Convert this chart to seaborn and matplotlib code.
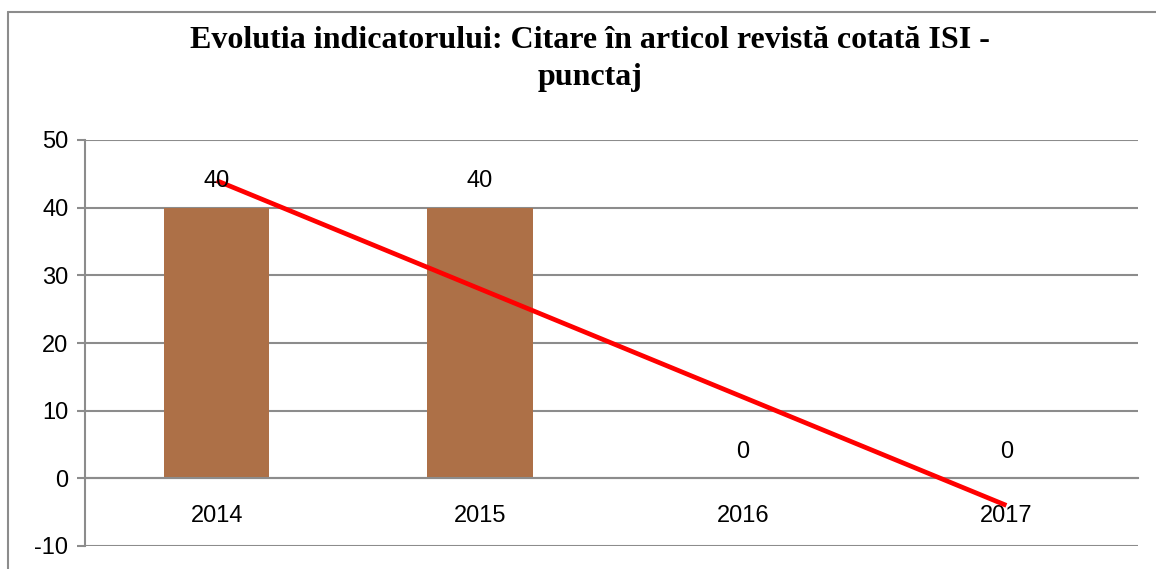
import numpy as np
import pandas as pd
import seaborn as sns
from matplotlib import pyplot as plt
from matplotlib.lines import Line2D
from matplotlib.ticker import MultipleLocator, FixedLocator

years = ['2014', '2015', '2016', '2017']
values = [40, 40, 0, 0]

df = pd.DataFrame({'an': years, 'punctaj': values})

sns.set_style('white')
plt.rcParams['font.family'] = ['Liberation Sans', 'DejaVu Sans']
plt.rcParams['axes.unicode_minus'] = False
plt.rcParams['text.color'] = 'black'
plt.rcParams['xtick.labelcolor'] = 'black'
plt.rcParams['ytick.labelcolor'] = 'black'

W, H = 1156, 569
fig = plt.figure(figsize=(W / 100, H / 100), dpi=100)
ax = fig.add_axes([85 / W, (H - 546) / H, (1138 - 85) / W, (546 - 140) / H])

grid_c = '#8c8c8c'

sns.barplot(data=df, x='an', y='punctaj', color='#ad7047', width=0.4,
            saturation=1, linewidth=0, ax=ax, zorder=2)

# linear trend like excel
xs = np.arange(len(values))
k, b = np.polyfit(xs, values, 1)
ax.plot([xs[0], xs[-1]], [k * xs[0] + b, k * xs[-1] + b], color='#ff0000',
        lw=3.4, solid_capstyle='butt', zorder=4)

for cont in ax.containers:
    ax.bar_label(cont, labels=[str(v) for v in values], padding=11,
                 fontsize=17, color='black', zorder=5)

ax.set_xlim(-0.5, 3.5)
ax.set_ylim(-10, 50)
ax.yaxis.set_major_locator(MultipleLocator(10))
ax.grid(axis='y', color=grid_c, lw=1.5, zorder=0)
ax.grid(axis='x', visible=False)
ax.set_axisbelow(True)

for s in ['top', 'right']:
    ax.spines[s].set_visible(False)
ax.spines['left'].set_color(grid_c)
ax.spines['left'].set_linewidth(1.5)
ax.spines['bottom'].set_position(('data', 0))
ax.spines['bottom'].set_color(grid_c)
ax.spines['bottom'].set_linewidth(1.5)

ax.xaxis.set_minor_locator(FixedLocator([0.5, 1.5, 2.5, 3.5]))
ax.tick_params(axis='x', which='major', length=0, pad=19, labelsize=17)
ax.tick_params(axis='x', which='minor', length=6, width=1.5, color=grid_c,
               direction='out')
ax.tick_params(axis='y', length=6, width=1.5, color=grid_c, pad=6,
               labelsize=17, left=True)
ax.set_xlabel('')
ax.set_ylabel('')

fig.text(590 / W, 1 - 41 / H, 'Evolutia indicatorului: Citare în articol revistă cotată ISI -',
         ha='center', va='center', fontsize=23, fontweight='bold', color='black',
         family=['Liberation Serif', 'DejaVu Serif'])
fig.text(590 / W, 1 - 77 / H, 'punctaj', ha='center', va='center', fontsize=23,
         fontweight='bold', color='black', family=['Liberation Serif', 'DejaVu Serif'])

# outer frame of the chart
fig.add_artist(Line2D([8 / W, 1], [1 - 12 / H, 1 - 12 / H], color=grid_c, lw=1.5))
fig.add_artist(Line2D([8 / W, 8 / W], [0, 1 - 12 / H], color=grid_c, lw=1.5))

fig.savefig('out.png', dpi=100)
